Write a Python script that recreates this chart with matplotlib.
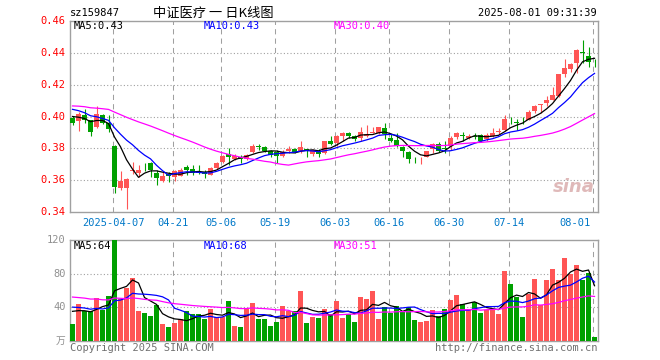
import numpy as np
import pandas as pd
import matplotlib.pyplot as plt

plt.switch_backend("Agg")

# daily candles 2025-03-26 .. 2025-08-01 (88 trading days)
opens = [0.399, 0.397, 0.401, 0.3975, 0.3937, 0.401, 0.3958, 0.3815, 0.3553, 0.355,
         0.3655, 0.3645, 0.3688, 0.3705, 0.3645, 0.3596, 0.3636, 0.3619, 0.3629, 0.3682,
         0.3669, 0.3653, 0.3653, 0.3635, 0.3676, 0.3714, 0.3764, 0.3733, 0.3748, 0.3733,
         0.3777, 0.3813, 0.3808, 0.3781, 0.3777, 0.3752, 0.3781, 0.3798, 0.3781, 0.3794,
         0.3764, 0.3781, 0.3773, 0.3844, 0.3831, 0.3877, 0.3898, 0.3877, 0.3863, 0.3877,
         0.3898, 0.3894, 0.3928, 0.3867, 0.3852, 0.3806, 0.3777, 0.3735, 0.3731, 0.3748,
         0.3798, 0.3825, 0.3800, 0.3815, 0.3869, 0.3884, 0.3866, 0.3876, 0.3883, 0.3858,
         0.3879, 0.3902, 0.3916, 0.3981, 0.3966, 0.3968, 0.3979, 0.4034, 0.4073, 0.4084,
         0.4105, 0.4130, 0.4264, 0.4297, 0.4335, 0.4406, 0.4381, 0.4337]
highs = [0.4004, 0.4027, 0.4046, 0.398, 0.4063, 0.4015, 0.401, 0.382, 0.366, 0.3614,
         0.3717, 0.3693, 0.371, 0.3714, 0.3667, 0.365, 0.3653, 0.3665, 0.3675, 0.3696,
         0.3696, 0.3695, 0.3664, 0.3681, 0.3716, 0.3758, 0.3802, 0.3764, 0.3756, 0.3762,
         0.3825, 0.3827, 0.3815, 0.3790, 0.3790, 0.3790, 0.3815, 0.3802, 0.3848, 0.3798,
         0.3794, 0.3794, 0.3848, 0.3877, 0.3882, 0.3903, 0.3903, 0.3882, 0.3936, 0.3944,
         0.3932, 0.3936, 0.3957, 0.3890, 0.3894, 0.3815, 0.3781, 0.3748, 0.3743, 0.3785,
         0.3831, 0.3840, 0.3844, 0.3877, 0.3903, 0.3903, 0.3891, 0.3899, 0.3887, 0.3895,
         0.3925, 0.3929, 0.4008, 0.3996, 0.3987, 0.3996, 0.4038, 0.4071, 0.4080, 0.4126,
         0.4184, 0.4268, 0.4364, 0.4335, 0.4423, 0.4482, 0.4436, 0.4364]
lows = [0.3947, 0.391, 0.396, 0.388, 0.3927, 0.3954, 0.390, 0.352, 0.354, 0.342,
        0.364, 0.362, 0.366, 0.362, 0.3572, 0.3588, 0.359, 0.3592, 0.3629, 0.3634,
        0.3634, 0.3639, 0.3612, 0.3630, 0.3672, 0.3710, 0.3695, 0.3727, 0.3710, 0.3727,
        0.3769, 0.3790, 0.3775, 0.3743, 0.3710, 0.3748, 0.3773, 0.3769, 0.3773, 0.3748,
        0.3752, 0.3748, 0.3764, 0.3823, 0.3815, 0.3848, 0.3863, 0.3844, 0.3848, 0.3873,
        0.3894, 0.3890, 0.3861, 0.3840, 0.3810, 0.3743, 0.3710, 0.3710, 0.3702, 0.3743,
        0.3769, 0.3777, 0.3773, 0.3790, 0.3861, 0.3848, 0.3858, 0.3858, 0.3841, 0.3849,
        0.3870, 0.3887, 0.3912, 0.3954, 0.3916, 0.3950, 0.3975, 0.4021, 0.4021, 0.4063,
        0.4101, 0.4121, 0.4251, 0.4281, 0.4276, 0.4339, 0.4314, 0.4314]
closes = [0.396, 0.4017, 0.398, 0.390, 0.4017, 0.3962, 0.392, 0.3555, 0.3595, 0.361,
          0.3667, 0.3662, 0.3686, 0.3665, 0.3613, 0.3626, 0.3628, 0.3659, 0.3661, 0.3661,
          0.3648, 0.3645, 0.3639, 0.3676, 0.3710, 0.3754, 0.3748, 0.3754, 0.3735, 0.3756,
          0.3815, 0.3808, 0.3785, 0.3756, 0.3752, 0.3777, 0.3794, 0.3777, 0.3806, 0.3785,
          0.3790, 0.3764, 0.3844, 0.3827, 0.3877, 0.3898, 0.3877, 0.3861, 0.3903, 0.3890,
          0.3901, 0.3932, 0.3890, 0.3848, 0.3815, 0.3781, 0.3735, 0.3731, 0.3735, 0.3781,
          0.3827, 0.3781, 0.3796, 0.3867, 0.3898, 0.3880, 0.3879, 0.3872, 0.3849, 0.3883,
          0.3899, 0.3906, 0.3983, 0.3977, 0.3962, 0.3964, 0.4029, 0.4067, 0.4077, 0.4101,
          0.4134, 0.4264, 0.4302, 0.4331, 0.4419, 0.4402, 0.4343, 0.4333]
# volume, 万手
volumes = [20, 44, 35.6, 35.6, 51.2, 36.8, 53.6, 120, 50, 63.2,
           75, 35.6, 33.2, 29.6, 42.8, 20, 16.4, 21.2, 26, 35.6,
           32, 32, 26, 38, 28, 28, 47.6, 17.6, 16.4, 38,
           45.2, 26, 26, 17.6, 22.4, 41.6, 35.6, 35.6, 59.6, 21.2,
           28.4, 27.2, 38, 32, 46.8, 27.2, 32, 22.4, 52.4, 50,
           59.6, 26, 40, 32.8, 41.6, 34, 40, 24.8, 22.4, 23.6,
           36.8, 30, 38, 48.8, 54.8, 44, 38, 46, 33.2, 36.8,
           36.8, 32, 82.5, 68, 52.4, 28.4, 56, 74, 42, 72.9,
           86, 72.9, 98, 79.7, 90, 72.9, 80.5, 4.4]
# closes / volumes before the window, only feeding the moving averages
prior_closes = [0.406, 0.408, 0.410, 0.409, 0.407, 0.405, 0.406, 0.408, 0.410, 0.411,
                0.409, 0.407, 0.406, 0.405, 0.407, 0.409, 0.410, 0.408, 0.406, 0.407,
                0.410, 0.411, 0.409, 0.408, 0.407, 0.404, 0.402, 0.400, 0.398]
prior_volumes = [62, 55, 70, 48, 66, 58, 52, 61, 74, 50, 57, 63, 49, 55, 68, 60, 52, 47, 58, 55,
                 48, 42, 50, 41, 44, 40, 36, 42, 37]

tick_idx = [7, 17, 25, 34, 44, 53, 63, 73, 87]
tick_labels = ["2025-04-07", "04-21", "05-06", "05-19", "06-03", "06-16", "06-30", "07-14", "08-01"]

RED = "#ff5555"
GREEN = "#00a000"
GRAY = "#a0a0a0"

n = len(closes)
x = np.arange(n)
o = np.array(opens)
c = np.array(closes)
up = c >= o
colors = np.where(up, RED, GREEN)

all_c = pd.Series(prior_closes + closes)
all_v = pd.Series(prior_volumes + volumes)
k = len(prior_closes)
ma = {m: all_c.rolling(m).mean().values[k:] for m in (5, 10, 30)}
vma = {m: all_v.rolling(m).mean().values[k:] for m in (5, 10, 30)}
ma_colors = {5: "black", 10: "#0000ff", 30: "#ff00ff"}

plt.rcParams["font.family"] = ["DejaVu Sans Mono", "Noto Sans CJK SC"]
fig = plt.figure(figsize=(6.6, 3.6), dpi=100)
W, H = 660, 360
ax = fig.add_axes([70 / W, 1 - 212 / H, 528 / W, 191 / H])
axv = fig.add_axes([70 / W, 1 - 340.7 / H, 528 / W, 100.7 / H])


def px_text(xp, yp, s, **kw):
    # pixel coords measured from the top-left corner
    fig.text(xp / W, 1 - yp / H, s, **kw)


for a in (ax, axv):
    a.set_xlim(-0.42, n - 0.42)
    for s in a.spines.values():
        s.set_color(GRAY)
        s.set_linewidth(1.0)
    a.tick_params(length=0, labelbottom=False, labelleft=False)
    for i in tick_idx:
        a.axvline(i - 0.25, color=GRAY, lw=0.75, ls=(0, (5, 4)), zorder=0)

# price panel
ax.set_ylim(0.34, 0.46)
for yv in [0.36, 0.38, 0.40, 0.42, 0.44]:
    ax.axhline(yv, color=GRAY, lw=0.8, ls=(0, (1, 2)), zorder=0)
for yv in [0.34, 0.36, 0.38, 0.40, 0.42, 0.44, 0.46]:
    ax.text(-0.008, yv, f"{yv:.2f}", transform=ax.get_yaxis_transform(), ha="right",
            va="center", color="red", fontsize=7.5)
ax.vlines(x, lows, highs, color=colors, lw=0.8, zorder=2)
body = np.maximum(np.abs(c - o), 0.0003)
ax.bar(x, body, bottom=np.minimum(o, c), width=0.8, color=colors, zorder=3)
for m in (5, 10, 30):
    ax.plot(x, ma[m], color=ma_colors[m], lw=0.9, zorder=4)
px_text(74, 26, "MA5:0.43", color="black", fontsize=7.5, va="center")
px_text(204, 26, "MA10:0.43", color="#0000ff", fontsize=7.5, va="center")
px_text(334, 26, "MA30:0.40", color="#ff00ff", fontsize=7.5, va="center")
ax.text(0.955, 0.13, "sina", transform=ax.transAxes, ha="center", va="center",
        color="#d8a8a8", fontsize=13, fontstyle="italic", fontweight="bold",
        family="DejaVu Sans", alpha=0.8)

for i, lab in zip(tick_idx, tick_labels):
    if i == n - 1:
        ax.text(i - 0.6, -0.03, lab, transform=ax.get_xaxis_transform(), ha="right",
                va="top", color="#0078c8", fontsize=7.5)
    else:
        ax.text(i - 0.25, -0.03, lab, transform=ax.get_xaxis_transform(), ha="center",
                va="top", color="#0078c8", fontsize=7.5)

# volume panel
axv.set_ylim(0, 120)
for yv in [40, 80]:
    axv.axhline(yv, color=GRAY, lw=0.8, ls=(0, (1, 2)), zorder=0)
for yv in [40, 80, 120]:
    axv.text(-0.008, yv, str(yv), transform=axv.get_yaxis_transform(), ha="right",
             va="center", color="#909090", fontsize=7.5)
axv.text(-0.008, 0, "万", transform=axv.get_yaxis_transform(), ha="right", va="center",
         color="#909090", fontsize=7, family="Noto Sans CJK SC")
axv.bar(x, volumes, width=0.8, color=colors, zorder=3)
for m in (5, 10, 30):
    axv.plot(x, vma[m], color=ma_colors[m], lw=0.9, zorder=4)
px_text(74, 246, "MA5:64", color="black", fontsize=7.5, va="center")
px_text(204, 246, "MA10:68", color="#0000ff", fontsize=7.5, va="center")
px_text(334, 246, "MA30:51", color="#ff00ff", fontsize=7.5, va="center")

# header / footer
px_text(70, 13, "sz159847", fontsize=7.5, va="center", ha="left", color="black")
px_text(213, 13, "中证医疗 一 日K线图", fontsize=9.5, va="center", ha="center",
        color="black", family=["Noto Sans CJK SC", "DejaVu Sans"])
px_text(597, 13, "2025-08-01 09:31:39", fontsize=7.5, va="center", ha="right", color="black")
px_text(70, 348, "Copyright 2025 SINA.COM", fontsize=7.5, va="center", ha="left", color="#707070")
px_text(597, 348, "http://finance.sina.com.cn", fontsize=7.5, va="center", ha="right", color="#707070")

fig.savefig("out.png", dpi=100)
